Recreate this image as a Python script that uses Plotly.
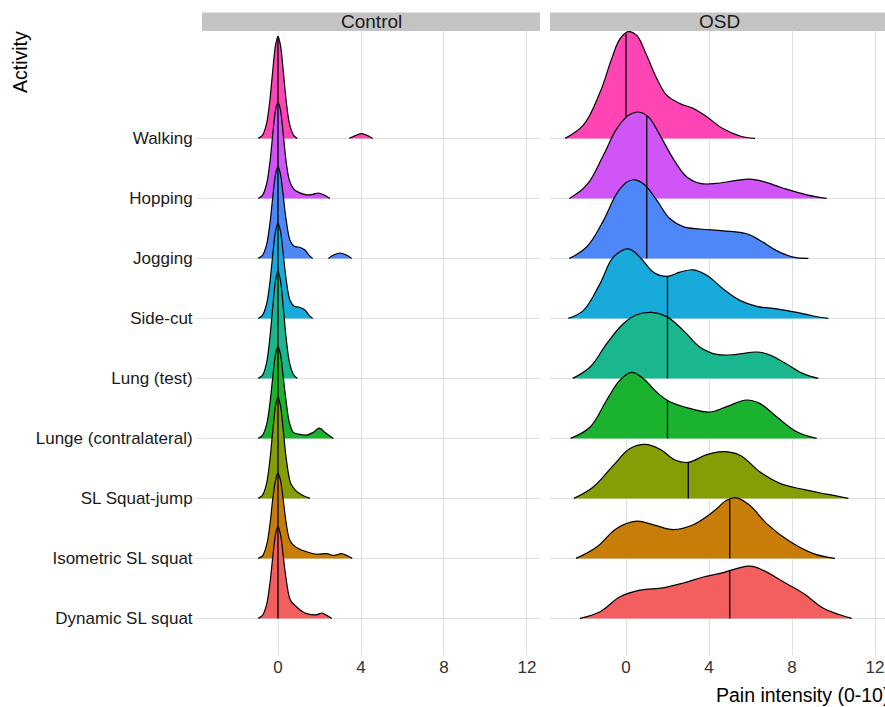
import numpy as np
import plotly.graph_objects as go

W, H = 885, 707

# Activities, bottom to top (y positions 1..9)
activities = ["Dynamic SL squat", "Isometric SL squat", "SL Squat-jump",
              "Lunge (contralateral)", "Lung (test)", "Side-cut",
              "Jogging", "Hopping", "Walking"]
fill_colors = ["#F25F5E", "#C77D08", "#869E05", "#1AB22E", "#1AB78F",
               "#18AADB", "#4D87F8", "#CF55F7", "#FF45B4"]

x_ticks = [0, 4, 8, 12]

# ---------------- Control group: ridge outlines (x, scaled height) ----------------
ctrl_walking_x = [-0.95, -0.75, -0.55, -0.39, -0.25, -0.12, 0, 0.12, 0.25, 0.39, 0.55, 0.75, 0.93]
ctrl_walking_h = [0, 0.05, 0.25, 0.64, 1.14, 1.55, 1.70, 1.55, 1.14, 0.64, 0.25, 0.05, 0]
ctrl_walking_x2 = [3.44, 3.75, 4.03, 4.30, 4.56]
ctrl_walking_h2 = [0, 0.05, 0.08, 0.05, 0]

ctrl_hopping_x = [-0.95, -0.75, -0.55, -0.39, -0.25, -0.12, 0, 0.12, 0.25, 0.39, 0.55, 0.75, 1.0, 1.38, 1.7, 1.94, 2.2, 2.5]
ctrl_hopping_h = [0, 0.05, 0.24, 0.60, 1.08, 1.47, 1.61, 1.47, 1.08, 0.62, 0.30, 0.16, 0.10, 0.06, 0.07, 0.09, 0.06, 0]

ctrl_jogging_x = [-0.95, -0.75, -0.55, -0.39, -0.25, -0.12, 0, 0.12, 0.25, 0.39, 0.58, 0.8, 0.98, 1.15, 1.3, 1.5, 1.67]
ctrl_jogging_h = [0, 0.05, 0.23, 0.58, 1.03, 1.40, 1.53, 1.40, 1.05, 0.65, 0.30, 0.20, 0.19, 0.17, 0.14, 0.05, 0]
ctrl_jogging_x2 = [2.43, 2.70, 2.99, 3.27, 3.55]
ctrl_jogging_h2 = [0, 0.06, 0.09, 0.06, 0]

ctrl_sidecut_x = [-0.95, -0.75, -0.55, -0.39, -0.25, -0.12, 0, 0.12, 0.25, 0.39, 0.58, 0.8, 0.98, 1.15, 1.3, 1.5, 1.67]
ctrl_sidecut_h = [0, 0.05, 0.24, 0.60, 1.07, 1.45, 1.59, 1.45, 1.08, 0.66, 0.30, 0.20, 0.19, 0.17, 0.14, 0.05, 0]

ctrl_lungtest_x = [-0.95, -0.75, -0.55, -0.39, -0.25, -0.12, 0, 0.12, 0.25, 0.39, 0.55, 0.75, 0.93]
ctrl_lungtest_h = [0, 0.05, 0.26, 0.68, 1.20, 1.63, 1.79, 1.63, 1.20, 0.68, 0.27, 0.06, 0]

ctrl_lunge_x = [-0.95, -0.75, -0.55, -0.39, -0.25, -0.12, 0, 0.12, 0.25, 0.39, 0.55, 0.74, 1.0, 1.38, 1.7, 1.99, 2.3, 2.67]
ctrl_lunge_h = [0, 0.05, 0.23, 0.58, 1.03, 1.40, 1.53, 1.40, 1.03, 0.62, 0.26, 0.10, 0.07, 0.055, 0.10, 0.17, 0.09, 0]

ctrl_squatjump_x = [-0.95, -0.75, -0.55, -0.39, -0.25, -0.12, 0, 0.12, 0.25, 0.39, 0.6, 0.8, 1.0, 1.25, 1.54]
ctrl_squatjump_h = [0, 0.05, 0.25, 0.64, 1.13, 1.54, 1.69, 1.54, 1.15, 0.68, 0.26, 0.15, 0.09, 0.04, 0]

ctrl_isometric_x = [-0.95, -0.75, -0.55, -0.39, -0.25, -0.12, 0, 0.12, 0.25, 0.39, 0.55, 0.74, 1.0, 1.38, 1.86, 2.35, 2.67, 3.07, 3.3, 3.58]
ctrl_isometric_h = [0, 0.04, 0.22, 0.56, 1.00, 1.30, 1.42, 1.30, 0.98, 0.60, 0.32, 0.22, 0.16, 0.11, 0.07, 0.08, 0.05, 0.08, 0.05, 0]

ctrl_dynamic_x = [-0.95, -0.75, -0.55, -0.39, -0.25, -0.12, 0, 0.12, 0.25, 0.39, 0.6, 0.9, 1.15, 1.38, 1.86, 2.1, 2.35, 2.59]
ctrl_dynamic_h = [0, 0.05, 0.23, 0.58, 1.03, 1.40, 1.53, 1.40, 1.05, 0.66, 0.30, 0.19, 0.12, 0.08, 0.06, 0.09, 0.05, 0]

# ---------------- OSD group: ridge outlines ----------------
osd_walking_x = [-2.94, -2.06, -1.25, -0.69, -0.29, 0.11, 0.51, 1.0, 1.48, 1.96, 2.6, 3.24, 3.89, 4.69, 5.49, 6.22]
osd_walking_h = [0, 0.22, 0.77, 1.33, 1.66, 1.78, 1.72, 1.38, 1.0, 0.72, 0.58, 0.50, 0.36, 0.16, 0.04, 0]

osd_hopping_x = [-2.73, -1.9, -1.09, -0.45, 0.11, 0.59, 1.07, 1.64, 2.28, 2.92, 3.57, 4.37, 5.33, 5.98, 6.62, 7.58, 8.71, 9.67]
osd_hopping_h = [0, 0.22, 0.72, 1.16, 1.38, 1.44, 1.36, 1.05, 0.66, 0.36, 0.25, 0.25, 0.30, 0.32, 0.28, 0.17, 0.06, 0]

osd_jogging_x = [-2.73, -1.9, -1.09, -0.45, 0.03, 0.43, 0.92, 1.48, 2.12, 2.76, 3.57, 4.69, 5.82, 6.46, 7.26, 8.06, 8.79]
osd_jogging_h = [0, 0.19, 0.63, 1.08, 1.27, 1.31, 1.22, 0.97, 0.66, 0.53, 0.49, 0.46, 0.41, 0.30, 0.13, 0.02, 0]

osd_sidecut_x = [-2.78, -2.06, -1.25, -0.61, 0.11, 0.67, 1.32, 1.96, 2.6, 3.24, 3.89, 4.69, 5.49, 6.3, 7.26, 8.23, 9.03, 9.75]
osd_sidecut_h = [0, 0.13, 0.58, 1.02, 1.16, 1.02, 0.77, 0.70, 0.77, 0.81, 0.72, 0.49, 0.30, 0.20, 0.16, 0.10, 0.04, 0]

osd_lungtest_x = [-2.57, -1.73, -0.93, -0.13, 0.51, 1.24, 1.96, 2.76, 3.57, 4.37, 5.33, 6.3, 6.94, 7.74, 8.54, 9.27]
osd_lungtest_h = [0, 0.19, 0.58, 0.91, 1.06, 1.10, 1.03, 0.80, 0.52, 0.40, 0.40, 0.44, 0.39, 0.24, 0.08, 0]

osd_lunge_x = [-2.67, -1.73, -0.93, -0.29, 0.27, 0.83, 1.48, 2.12, 3.08, 4.05, 4.85, 5.82, 6.46, 7.26, 8.23, 9.19]
osd_lunge_h = [0, 0.19, 0.64, 0.97, 1.10, 1.00, 0.77, 0.61, 0.50, 0.44, 0.53, 0.64, 0.58, 0.36, 0.11, 0]

osd_squatjump_x = [-2.51, -1.58, -0.61, 0.19, 0.92, 1.64, 2.36, 3.0, 3.89, 4.69, 5.49, 6.46, 7.42, 8.54, 9.67, 10.72]
osd_squatjump_h = [0, 0.19, 0.55, 0.83, 0.90, 0.82, 0.64, 0.60, 0.73, 0.78, 0.72, 0.44, 0.25, 0.15, 0.07, 0]

osd_isometric_x = [-2.41, -1.41, -0.45, 0.51, 1.32, 2.28, 3.24, 4.21, 4.85, 5.33, 5.98, 6.78, 7.9, 9.03, 10.07]
osd_isometric_h = [0, 0.19, 0.50, 0.62, 0.56, 0.48, 0.56, 0.78, 0.97, 1.01, 0.88, 0.58, 0.28, 0.08, 0]

osd_dynamic_x = [-2.22, -1.25, -0.29, 0.67, 1.8, 2.76, 3.73, 4.53, 5.33, 5.98, 6.62, 7.58, 8.54, 9.51, 10.31, 10.88]
osd_dynamic_h = [0, 0.11, 0.36, 0.47, 0.51, 0.59, 0.69, 0.75, 0.83, 0.87, 0.80, 0.61, 0.42, 0.17, 0.06, 0]

# Medians (bottom to top)
ctrl_medians = [0, 0, 0, 0, 0, 0, 0, 0, 0]
osd_medians = [5, 5, 3, 2, 2, 2, 1, 1, 0]

ctrl_ridges = [
    [(ctrl_dynamic_x, ctrl_dynamic_h)],
    [(ctrl_isometric_x, ctrl_isometric_h)],
    [(ctrl_squatjump_x, ctrl_squatjump_h)],
    [(ctrl_lunge_x, ctrl_lunge_h)],
    [(ctrl_lungtest_x, ctrl_lungtest_h)],
    [(ctrl_sidecut_x, ctrl_sidecut_h)],
    [(ctrl_jogging_x, ctrl_jogging_h), (ctrl_jogging_x2, ctrl_jogging_h2)],
    [(ctrl_hopping_x, ctrl_hopping_h)],
    [(ctrl_walking_x, ctrl_walking_h), (ctrl_walking_x2, ctrl_walking_h2)],
]
osd_ridges = [
    [(osd_dynamic_x, osd_dynamic_h)],
    [(osd_isometric_x, osd_isometric_h)],
    [(osd_squatjump_x, osd_squatjump_h)],
    [(osd_lunge_x, osd_lunge_h)],
    [(osd_lungtest_x, osd_lungtest_h)],
    [(osd_sidecut_x, osd_sidecut_h)],
    [(osd_jogging_x, osd_jogging_h)],
    [(osd_hopping_x, osd_hopping_h)],
    [(osd_walking_x, osd_walking_h)],
]

fig = go.Figure()


def add_ridge(segments, base, color, median, xa, ya, smooth):
    for sx, sh in segments:
        fig.add_trace(go.Scatter(x=[sx[0], sx[-1]], y=[base, base], mode="lines",
                                 line=dict(width=0, color="rgba(0,0,0,0)"),
                                 hoverinfo="skip", showlegend=False, xaxis=xa, yaxis=ya))
        fig.add_trace(go.Scatter(x=sx, y=[base + v for v in sh], mode="lines",
                                 line=dict(color="black", width=1.2, shape="spline", smoothing=smooth),
                                 fill="tonexty", fillcolor=color,
                                 hoverinfo="skip", showlegend=False, xaxis=xa, yaxis=ya))
    for sx, sh in segments:
        if sx[0] <= median <= sx[-1]:
            hm = float(np.interp(median, sx, sh))
            fig.add_trace(go.Scatter(x=[median, median], y=[base, base + hm], mode="lines",
                                     line=dict(color="black", width=1.3),
                                     hoverinfo="skip", showlegend=False, xaxis=xa, yaxis=ya))
            break


# draw from top (Walking) to bottom so lower ridges overlap upper ones
for i in range(len(activities) - 1, -1, -1):
    add_ridge(ctrl_ridges[i], i + 1, fill_colors[i], ctrl_medians[i], "x", "y", 0.9)
for i in range(len(activities) - 1, -1, -1):
    add_ridge(osd_ridges[i], i + 1, fill_colors[i], osd_medians[i], "x2", "y2", 1.1)

GRID = "#DFDFDF"
FONT = "Liberation Sans, Arial, sans-serif"

px2x = lambda p: p / W
px2y = lambda p: 1 - p / H

y_dom = [px2y(655), px2y(31)]
y_rng = [0.39, 10.79]

fig.update_layout(
    width=W, height=H,
    margin=dict(l=0, r=0, t=0, b=0),
    paper_bgcolor="white", plot_bgcolor="white",
    font=dict(family=FONT, color="#1a1a1a"),
    showlegend=False,
    xaxis=dict(domain=[px2x(202), px2x(540)], range=[-3.663, 12.627], tickvals=x_ticks,
               showgrid=True, gridcolor=GRID, gridwidth=1.3, zeroline=False, showline=False,
               ticks="", tickfont=dict(size=17, color="#333333"), anchor="y"),
    yaxis=dict(domain=y_dom, range=y_rng, tickvals=list(range(1, 10)), ticktext=activities,
               showgrid=True, gridcolor=GRID, gridwidth=1.3, zeroline=False, showline=False,
               ticks="outside", ticklen=5, tickcolor=GRID, tickwidth=1.3,
               tickfont=dict(size=17, color="#1a1a1a"), anchor="x"),
    xaxis2=dict(domain=[px2x(550), 1.0], range=[-3.663, 12.482], tickvals=x_ticks,
                showgrid=True, gridcolor=GRID, gridwidth=1.3, zeroline=False, showline=False,
                ticks="", tickfont=dict(size=17, color="#333333"), anchor="y2"),
    yaxis2=dict(domain=y_dom, range=y_rng, tickvals=list(range(1, 10)),
                showgrid=True, gridcolor=GRID, gridwidth=1.3, zeroline=False, showline=False,
                showticklabels=False, ticks="", anchor="x2"),
)

# facet strips
fig.add_shape(type="rect", xref="paper", yref="paper", x0=px2x(202), x1=px2x(540),
              y0=px2y(31), y1=px2y(12.5), fillcolor="#C4C4C4", line=dict(width=0), layer="below")
fig.add_shape(type="rect", xref="paper", yref="paper", x0=px2x(550), x1=1.0,
              y0=px2y(31), y1=px2y(12.5), fillcolor="#C4C4C4", line=dict(width=0), layer="below")
fig.add_annotation(text="Control", xref="paper", yref="paper", x=px2x(371), y=px2y(22),
                   xanchor="center", yanchor="middle",
                   showarrow=False, font=dict(size=19, color="#1a1a1a"))
fig.add_annotation(text="OSD", xref="paper", yref="paper", x=px2x(719), y=px2y(22),
                   xanchor="center", yanchor="middle",
                   showarrow=False, font=dict(size=19, color="#1a1a1a"))

# axis titles
fig.add_annotation(text="Activity", xref="paper", yref="paper", x=px2x(20), y=px2y(62),
                   xanchor="center", yanchor="middle",
                   textangle=-90, showarrow=False, font=dict(size=19.5, color="black"))
fig.add_annotation(text="Pain intensity (0-10)", xref="paper", yref="paper",
                   x=px2x(714), y=px2y(695), xanchor="left", yanchor="middle", showarrow=False,
                   font=dict(size=19.5, color="black"))

fig.write_html("out.html", config={"displayModeBar": False},
               post_script="document.body.style.margin='0';")
